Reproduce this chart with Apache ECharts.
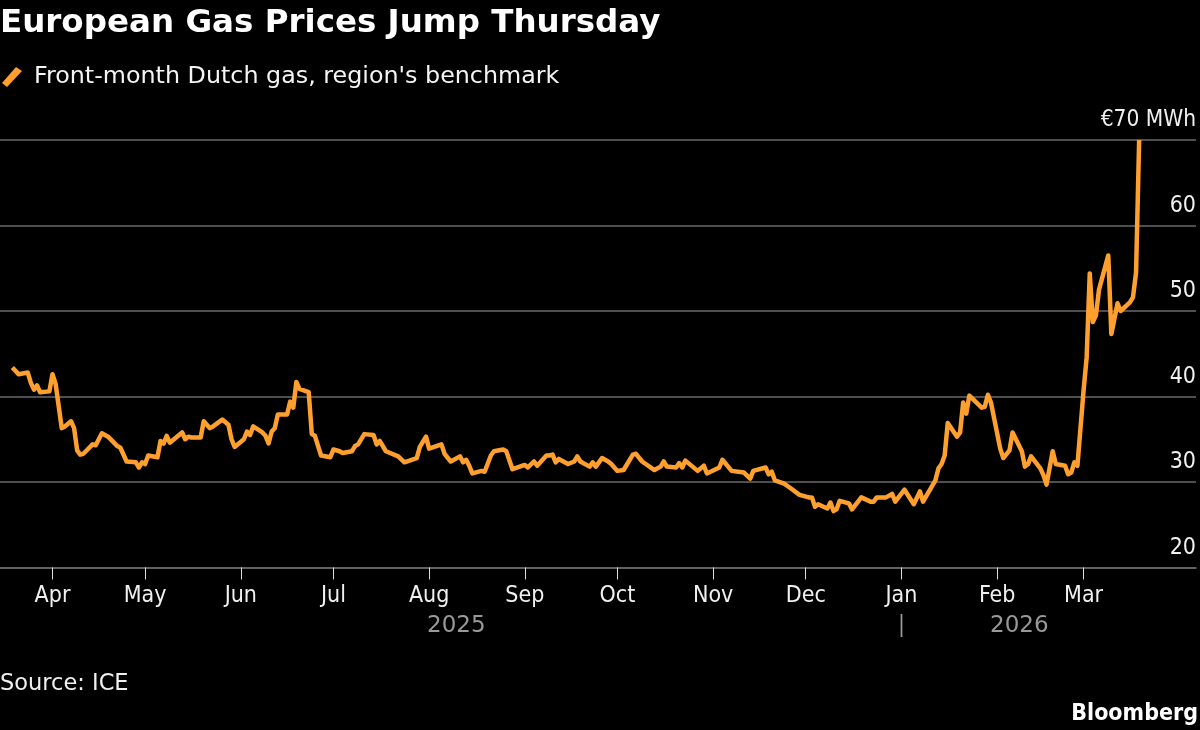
<!DOCTYPE html>
<html lang="en">
<head>
    <meta charset="UTF-8">
    <title>European Gas Prices Jump Thursday</title>
    <script src="https://cdn.jsdelivr.net/npm/echarts@6/dist/echarts.min.js"></script>
    <style>
        html, body { margin: 0; padding: 0; background: #000; }
        #chart { width: 1200px; height: 730px; }
    </style>
</head>
<body>
    <div id="chart"></div>
    <script>
        // Front-month Dutch gas, EUR/MWh, turning points
        const dates = [
            '2025-03-19','2025-03-20','2025-03-21','2025-03-24','2025-03-25','2025-03-26','2025-03-27','2025-03-28','2025-03-31',
            '2025-04-01','2025-04-02','2025-04-04','2025-04-05','2025-04-07','2025-04-08','2025-04-09','2025-04-10','2025-04-11',
            '2025-04-14','2025-04-15','2025-04-17','2025-04-19','2025-04-22','2025-04-23','2025-04-25','2025-04-28','2025-04-29','2025-04-30',
            '2025-05-01','2025-05-02','2025-05-05','2025-05-06','2025-05-07','2025-05-08','2025-05-09','2025-05-13','2025-05-14','2025-05-15',
            '2025-05-16','2025-05-19','2025-05-20','2025-05-22','2025-05-23','2025-05-26','2025-05-28','2025-05-29','2025-05-30',
            '2025-06-02','2025-06-03','2025-06-04','2025-06-05','2025-06-08','2025-06-09','2025-06-10','2025-06-11','2025-06-12','2025-06-13',
            '2025-06-16','2025-06-17','2025-06-18','2025-06-19','2025-06-20','2025-06-23','2025-06-24','2025-06-25','2025-06-27','2025-06-30',
            '2025-07-01','2025-07-03','2025-07-04','2025-07-07','2025-07-08','2025-07-09','2025-07-11','2025-07-14','2025-07-15','2025-07-16',
            '2025-07-18','2025-07-22','2025-07-24','2025-07-28','2025-07-29','2025-07-31',
            '2025-08-01','2025-08-05','2025-08-06','2025-08-08','2025-08-11','2025-08-12','2025-08-13','2025-08-14','2025-08-15','2025-08-18',
            '2025-08-19','2025-08-21','2025-08-22','2025-08-25','2025-08-26','2025-08-28',
            '2025-09-01','2025-09-02','2025-09-04','2025-09-05','2025-09-08','2025-09-09','2025-09-10','2025-09-11','2025-09-12','2025-09-15',
            '2025-09-17','2025-09-18','2025-09-19','2025-09-22','2025-09-23','2025-09-24','2025-09-26','2025-09-28','2025-09-29',
            '2025-10-01','2025-10-03','2025-10-06','2025-10-07','2025-10-09','2025-10-13','2025-10-15','2025-10-16','2025-10-17','2025-10-20',
            '2025-10-21','2025-10-22','2025-10-23','2025-10-27','2025-10-29','2025-10-30',
            '2025-11-03','2025-11-04','2025-11-07','2025-11-11','2025-11-13','2025-11-14','2025-11-18','2025-11-19','2025-11-20','2025-11-21',
            '2025-11-24','2025-11-26','2025-11-29',
            '2025-12-02','2025-12-03','2025-12-04','2025-12-05','2025-12-08','2025-12-09','2025-12-10','2025-12-11','2025-12-12','2025-12-15',
            '2025-12-16','2025-12-19','2025-12-22','2025-12-23','2025-12-24','2025-12-27','2025-12-29','2025-12-30',
            '2026-01-02','2026-01-05','2026-01-07','2026-01-08','2026-01-12','2026-01-13','2026-01-14','2026-01-15','2026-01-16','2026-01-19',
            '2026-01-20','2026-01-21','2026-01-22','2026-01-23','2026-01-27','2026-01-28','2026-01-29','2026-01-30',
            '2026-02-02','2026-02-03','2026-02-05','2026-02-06','2026-02-09','2026-02-10','2026-02-11','2026-02-12','2026-02-15','2026-02-16',
            '2026-02-17','2026-02-19','2026-02-20','2026-02-23','2026-02-24','2026-02-25','2026-02-26','2026-02-27',
            '2026-03-01','2026-03-02','2026-03-03','2026-03-04','2026-03-05','2026-03-06','2026-03-09','2026-03-10','2026-03-12','2026-03-13',
            '2026-03-16','2026-03-17','2026-03-18','2026-03-19'
        ];
        const prices = [
            43.4,43.0,42.6,42.8,41.6,40.8,41.3,40.5,40.6,
            42.6,41.5,36.3,36.5,37.1,36.3,33.7,33.2,33.3,
            34.4,34.3,35.7,35.3,34.2,34.0,32.4,32.3,31.7,32.3,
            32.1,33.1,32.9,34.8,34.5,35.4,34.6,35.8,35.0,35.3,
            35.2,35.2,37.1,36.3,36.5,37.3,36.7,35.0,34.1,
            35.0,35.9,35.5,36.5,35.8,35.4,34.5,35.9,36.3,37.9,
            37.9,39.4,38.7,41.7,40.9,40.5,35.6,35.4,33.1,32.9,
            33.8,33.6,33.4,33.6,34.2,34.4,35.6,35.5,34.4,34.8,
            33.6,33.0,32.3,32.8,34.1,35.3,
            33.9,34.4,33.3,32.4,33.0,32.3,32.6,31.9,31.0,31.3,
            31.2,33.1,33.6,33.8,33.6,31.5,
            32.0,31.7,32.4,31.9,33.1,33.1,33.2,32.3,32.7,32.1,
            32.4,33.0,32.4,31.8,32.3,31.8,32.8,32.4,32.1,
            31.3,31.4,33.2,33.3,32.4,31.4,31.8,32.4,31.8,31.7,
            32.2,31.7,32.5,31.3,31.9,31.0,
            31.7,32.6,31.3,31.1,30.4,31.3,31.7,30.9,31.2,30.2,
            29.8,29.3,28.5,
            28.2,28.2,27.1,27.4,26.9,27.6,26.6,26.8,27.8,27.5,
            26.8,28.2,27.7,27.7,28.2,28.2,28.6,27.7,
            29.1,27.4,28.9,27.7,30.2,31.6,32.1,33.1,36.9,35.3,
            35.8,39.3,38.0,40.1,38.7,38.8,40.2,39.3,
            33.9,32.8,33.7,35.8,33.6,31.8,32.1,33.0,31.6,30.8,
            29.7,33.6,32.1,31.9,30.9,31.1,32.3,31.9,
            40.7,44.6,54.4,48.7,49.5,52.5,56.5,47.3,50.9,50.0,
            51.0,51.6,54.5,70.0
        ];
        const monthTicks = ['2025-04-01','2025-05-01','2025-06-01','2025-07-01','2025-08-01','2025-09-01','2025-10-01','2025-11-01','2025-12-01','2026-01-01','2026-02-01','2026-03-01'];
        const monthLabels = ['Apr','May','Jun','Jul','Aug','Sep','Oct','Nov','Dec','Jan','Feb','Mar'];

        const wideFont = '"DejaVu Sans", sans-serif';
        const narrowFont = '"DejaVu Sans Condensed", "DejaVu Sans", sans-serif';
        const toTime = s => new Date(s.length > 10 ? s : s + 'T00:00:00').getTime();
        const monthTimes = monthTicks.map(toTime);

        const chart = echarts.init(document.getElementById('chart'), null, { renderer: 'canvas' });
        chart.setOption({
            backgroundColor: '#000',
            animation: false,
            // headline, footer and year captions
            title: [
                { text: 'European Gas Prices Jump Thursday', left: 0, top: 7, padding: 0,
                  textStyle: { color: '#fff', fontSize: 32.5, fontWeight: 'bold', fontFamily: wideFont } },
                { text: 'Source: ICE', left: 0, top: 673, padding: 0,
                  textStyle: { color: '#f0f0f0', fontSize: 22.5, fontWeight: 'normal', fontFamily: wideFont } },
                { text: 'Bloomberg', right: 2, top: 703, padding: 0,
                  textStyle: { color: '#fff', fontSize: 23, fontWeight: 'bold', fontFamily: narrowFont } },
                { text: '2025', left: 427, top: 615, padding: 0,
                  textStyle: { color: '#999', fontSize: 23, fontWeight: 'normal', fontFamily: wideFont } },
                { text: '|', left: 898, top: 615, padding: 0,
                  textStyle: { color: '#999', fontSize: 23, fontWeight: 'normal', fontFamily: narrowFont } },
                { text: '2026', left: 990, top: 615, padding: 0,
                  textStyle: { color: '#999', fontSize: 23, fontWeight: 'normal', fontFamily: wideFont } }
            ],
            legend: {
                left: 2, top: 65, padding: 0,
                itemWidth: 20, itemHeight: 20,
                data: [{
                    name: "Front-month Dutch gas, region's benchmark",
                    icon: 'path://M0 16 L14 0 L20 4 L5 20 Z'
                }],
                textStyle: { color: '#f4f4f4', fontSize: 23.8, fontFamily: wideFont, padding: [0, 0, 0, 7] }
            },
            grid: { left: 0, right: 4, top: 140, bottom: 162.5 },
            xAxis: {
                type: 'value',
                min: toTime('2025-03-15T00:00:00'),
                max: toTime('2026-04-06T10:00:00'),
                axisLine: { show: true, lineStyle: { color: '#6a6a6a', width: 1.5 } },
                axisTick: { show: true, customValues: monthTimes, length: 12, lineStyle: { color: '#ddd', width: 1 } },
                splitLine: { show: false },
                axisLabel: {
                    customValues: monthTimes,
                    formatter: v => monthLabels[monthTimes.indexOf(v)],
                    color: '#f0f0f0', fontSize: 23, fontFamily: narrowFont, margin: 17
                }
            },
            yAxis: {
                type: 'value',
                position: 'right',
                min: 20,
                max: 70,
                interval: 10,
                axisLine: { show: false },
                axisTick: { show: false },
                splitLine: { lineStyle: { color: '#6a6a6a', width: 1.5 } },
                axisLabel: {
                    inside: true,
                    margin: 0,
                    align: 'right',
                    verticalAlign: 'bottom',
                    padding: [0, 0, 8, 0],
                    color: '#f0f0f0', fontSize: 23, fontFamily: narrowFont,
                    formatter: v => v === 70 ? '{top|€70 MWh}' : String(v),
                    rich: { top: { color: '#f0f0f0', fontSize: 22.5, fontFamily: narrowFont } }
                }
            },
            series: [{
                name: "Front-month Dutch gas, region's benchmark",
                type: 'line',
                showSymbol: false,
                smooth: false,
                itemStyle: { color: '#ffa02e' },
                lineStyle: { color: '#ffa02e', width: 4.5, join: 'round' },
                data: dates.map((d, i) => [toTime(d), prices[i]])
            }]
        });
    </script>
</body>
</html>
